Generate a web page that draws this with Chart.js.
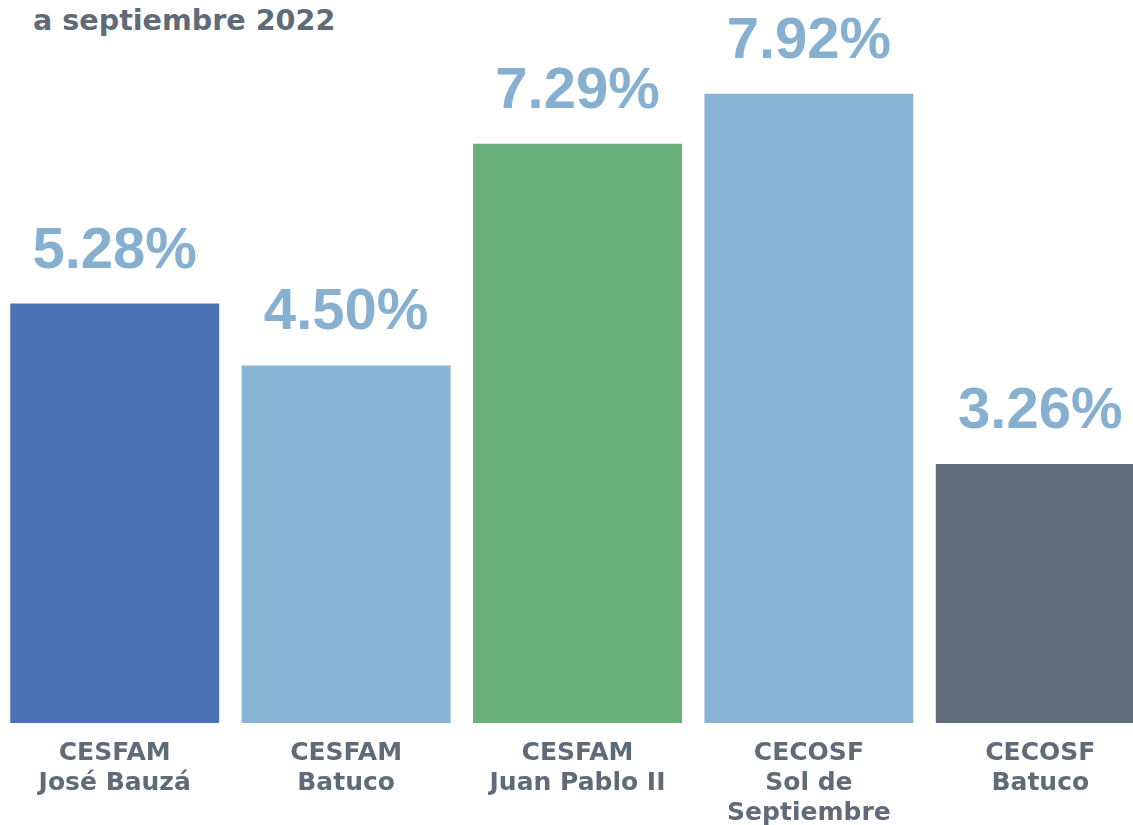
<!DOCTYPE html>
<html lang="es">
<head>
  <meta charset="UTF-8">
  <title>Porcentaje por establecimiento a septiembre 2022</title>
  <script src="https://cdn.jsdelivr.net/npm/chart.js@4/dist/chart.umd.min.js"></script>
  <style>
    html, body { margin: 0; padding: 0; background: #fff; overflow: hidden; width: 1133px; height: 825px; }
    #titulo { position: absolute; left: 33px; top: 3px; font: bold 28.6px "DejaVu Sans"; color: #5f6b78; white-space: nowrap; }
    #forCanvas { position: absolute; left: -1px; top: 0; width: 1157px; height: 843px; }
  </style>
</head>
<body>

  <div id="titulo">a septiembre 2022</div>
  <div id="forCanvas"><canvas id="myChart"></canvas></div>

  <script>
  // datos
  var centros = [
    ["CESFAM", "José Bauzá"],
    ["CESFAM", "Batuco"],
    ["CESFAM", "Juan Pablo II"],
    ["CECOSF", "Sol de", "Septiembre"],
    ["CECOSF", "Batuco"]
  ];
  var porcentajes = [5.28, 4.50, 7.29, 7.92, 3.26];
  var colores = ["#4a72b5", "#89b5d4", "#69b07c", "#89b5d4", "#5f6b78"];

  // etiquetas de valor encima de cada barra
  var valueLabels = {
    id: "valueLabels",
    afterDatasetsDraw: function(chart) {
      var ctx = chart.ctx;
      var meta = chart.getDatasetMeta(0);
      ctx.save();
      ctx.font = "bold 58px 'Liberation Sans'";
      ctx.fillStyle = "#86afd0";
      ctx.textAlign = "center";
      ctx.textBaseline = "alphabetic";
      meta.data.forEach(function(bar, i) {
        ctx.fillText(porcentajes[i].toFixed(2) + "%", bar.x, bar.y - 36);
      });
      ctx.restore();
    }
  };

  var ctx = document.getElementById("myChart");
  var myChart = new Chart(ctx, {
    type: "bar",
    data: {
      labels: centros,
      datasets: [{
        data: porcentajes,
        backgroundColor: colores,
        barPercentage: 0.903,
        categoryPercentage: 1
      }]
    },
    options: {
      responsive: true,
      maintainAspectRatio: false,
      animation: false,
      layout: { padding: 0 },
      plugins: {
        legend: { display: false },
        tooltip: { enabled: false }
      },
      scales: {
        x: {
          grid: { display: false, drawTicks: false },
          border: { display: false },
          ticks: {
            padding: 15,
            color: "#5f6b78",
            font: { family: "DejaVu Sans", weight: "bold", size: 25, lineHeight: 1.2 },
            maxRotation: 0,
            autoSkip: false
          }
        },
        y: {
          display: false,
          min: 0,
          max: 9.1
        }
      }
    },
    plugins: [valueLabels]
  });
  </script>

</body>
</html>
